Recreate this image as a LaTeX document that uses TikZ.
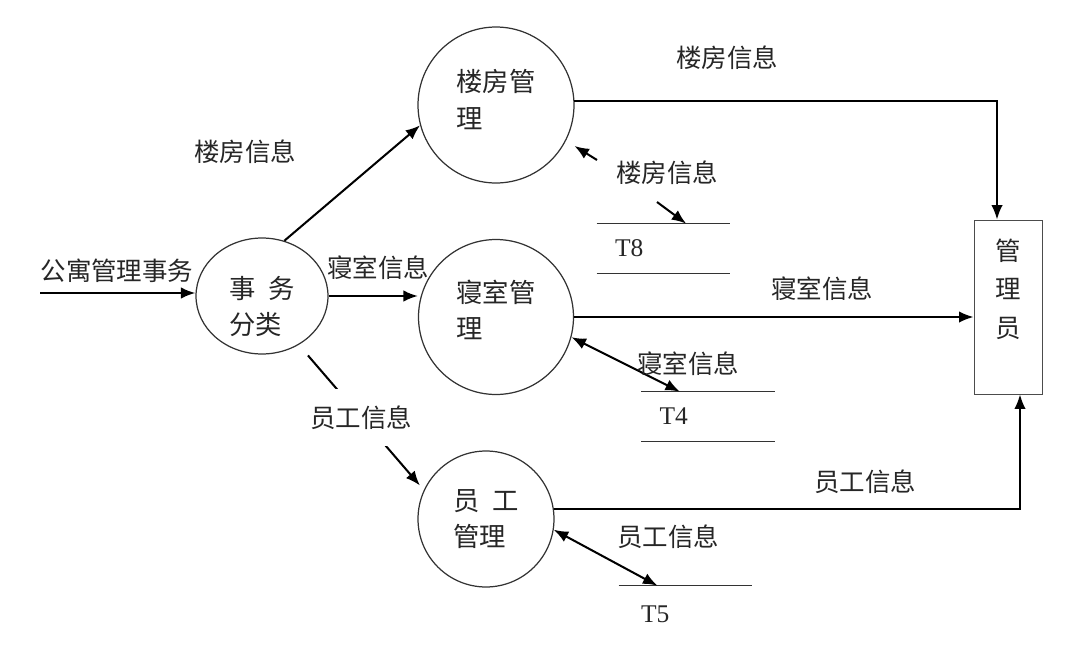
\documentclass[tikz,border=0pt]{standalone}
\usepackage{fontspec}
\setmainfont{Liberation Serif}
\newfontfamily\cjk{Noto Sans CJK SC}
\usetikzlibrary{arrows.meta, calc, shapes.geometric}

\tikzset{
    flow/.style={line width=1.15pt, -{Latex[length=0.29cm,width=0.23cm]}},
    twoway/.style={line width=1.15pt, {Latex[length=0.29cm,width=0.23cm]}-{Latex[length=0.29cm,width=0.23cm]}},
    proc/.style={draw=black!80, line width=0.7pt, inner sep=0pt},
    proctext/.style={inner sep=0pt, align=left, text=black!85, font=\cjk\fontsize{15}{20.5}\selectfont},
    store/.style={inner ysep=0pt, inner xsep=0.36cm, text width=1.94cm, minimum height=0.98cm, align=left, text=black!85, font=\fontsize{14.5}{17}\selectfont},
    lbl/.style={inner sep=1pt, text=black!85, font=\cjk\fontsize{14.5}{17}\selectfont},
    storeline/.style={line width=0.9pt, black!80},
}

\begin{document}
\begin{tikzpicture}[x=0.02cm,y=-0.02cm]
    \useasboundingbox (0,0) rectangle (1080,646);

    % processes
    \draw (262,296) node[proc, ellipse, minimum width=2.64cm, minimum height=2.32cm,
        label={[proctext, yshift=-0.22cm]center:事\hspace{0.5em}务\\分类}] (shi) {};
    \draw (496,105) node[proc, circle, minimum size=3.12cm,
        label={[proctext, yshift=0.11cm]center:楼房管\\理}] (lf) {};
    \draw (496,317) node[proc, circle, minimum size=3.1cm,
        label={[proctext, yshift=0.14cm]center:寝室管\\理}] (qs) {};
    \draw (486,519) node[proc, circle, minimum size=2.72cm,
        label={[proctext]center:员\hspace{0.5em}工\\管理}] (yg) {};

    % external entity
    \draw (1008,307) node[draw=black!70, line width=0.5pt, minimum width=1.36cm, minimum height=3.48cm,
        label={[lbl, align=center, font=\cjk\fontsize{14.5}{22}\selectfont, yshift=0.36cm]center:管\\理\\员}] (glb) {};

    % data stores
    \draw (663.5,248.5) node[store] (T8) {T8};
    \draw (708,416.5) node[store] (T4) {T4};
    \draw (685.5,614) node[store, inner xsep=0.44cm, text width=1.78cm, minimum height=1.12cm] (T5) {T5};
    \draw[storeline] (T8.north west) -- (T8.north east);
    \draw[storeline] (T8.south west) -- (T8.south east);
    \draw[storeline] (T4.north west) -- (T4.north east);
    \draw[storeline] (T4.south west) -- (T4.south east);
    \draw[storeline] (T5.north west) -- (T5.north east);

    % free ends
    \coordinate (in) at (40,293);
    \coordinate (lfa) at (597,160);
    \coordinate (lfb) at (657,202);

    % flows
    \draw[flow] (in) -- (in -| shi.west);
    \draw[flow] (shi.68) -- (lf.195);
    \draw[flow] (shi.east) -- (shi.east -| qs.west);
    \draw[flow, shorten <=0.28cm, shorten >=0.12cm] (shi.-53) -- node[lbl, fill=white, inner xsep=1pt, inner ysep=0.34cm] (ygxx) {员工信息} (yg.155);
    \draw[flow] (lf.3) -| ([xshift=-0.22cm]glb.north);
    \draw[flow] (qs.east) -- (qs.east -| glb.west);
    \draw[flow] (yg.8) -| ([xshift=0.24cm]glb.south);
    \draw[flow, shorten >=0.2cm] (lfa) -- (lf.-27);
    \draw[flow] (lfb) -- ($(T8.north west)!0.67!(T8.north east)$);
    \draw[twoway] (qs.-15) -- ($(T4.north west)!0.29!(T4.north east)$);
    \draw[twoway] (yg.-9) -- ($(T5.north west)!0.29!(T5.north east)$);

    % labels
    \node[lbl] (inxx) at (117,271) {公寓管理事务};
    \node[lbl] (lfxx1) at (245,152) {楼房信息};
    \node[lbl] (qsxx1) at (378,268) {寝室信息};
    \node[lbl] (lfxx2) at (727,58) {楼房信息};
    \node[lbl] (lfxx3) at (667,173) {楼房信息};
    \node[lbl] (qsxx2) at (822,289) {寝室信息};
    \node[lbl] (qsxx3) at (688,364) {寝室信息};
    \node[lbl] (ygxx2) at (865,482) {员工信息};
    \node[lbl] (ygxx3) at (668,537) {员工信息};

\end{tikzpicture}
\end{document}
